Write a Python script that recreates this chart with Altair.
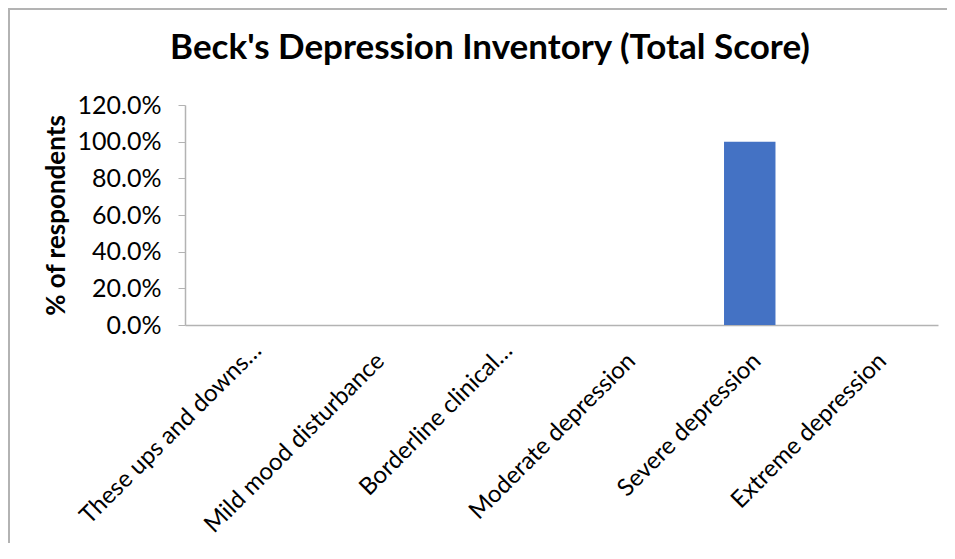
import altair as alt
import pandas as pd

categories = [
    "These ups and downs…",
    "Mild mood disturbance",
    "Borderline clinical…",
    "Moderate depression",
    "Severe depression",
    "Extreme depression",
]
values = [0.0, 0.0, 0.0, 0.0, 1.0, 0.0]
y_ticks = [0.0, 0.2, 0.4, 0.6, 0.8, 1.0, 1.2]
title_text = ["Beck's Depression Inventory (Total Score)"]

df = pd.DataFrame({"category": categories, "value": values})

FONT = "Lato"
GRAY = "#b3b3b3"
ELLIPSIS_TEST = "indexof(datum.category, '…') >= 0"

x_enc = alt.X(
    "category:N",
    sort=categories,
    scale=alt.Scale(paddingInner=0.59, paddingOuter=0.295),
    axis=alt.Axis(
        title=None,
        labels=False,
        ticks=False,
        domainColor=GRAY,
        domainWidth=1.5,
    ),
)

bars = alt.Chart(df).mark_bar(color="#4472C4").encode(
    x=x_enc,
    y=alt.Y(
        "value:Q",
        scale=alt.Scale(domain=[0, 1.2], nice=False),
        axis=alt.Axis(
            title="% of respondents",
            titleFont=FONT,
            titleFontSize=26,
            titleFontWeight="bold",
            titleColor="#000000",
            titlePadding=8,
            values=y_ticks,
            format=".1%",
            labelFont=FONT,
            labelFontSize=25,
            labelColor="#000000",
            labelPadding=17,
            tickSize=7,
            tickColor=GRAY,
            domainColor=GRAY,
            domainWidth=1.5,
            grid=False,
        ),
    ),
)

label_style = dict(font=FONT, fontSize=24, color="#000000", angle=315,
                   align="right", baseline="middle")
labels_regular = alt.Chart(df).transform_filter(f"!({ELLIPSIS_TEST})").mark_text(
    dx=5.3, dy=5.3, **label_style
).encode(x=alt.X("category:N", sort=categories), y=alt.value(252.5), text="category:N")
labels_ellipsis = alt.Chart(df).transform_filter(ELLIPSIS_TEST).mark_text(
    dx=7.1, dy=7.1, **label_style
).encode(x=alt.X("category:N", sort=categories), y=alt.value(242), text="category:N")

one = alt.Data(values=[{"t": title_text[0]}])
left_border = alt.Chart(one).mark_rule(color=GRAY, strokeWidth=2).encode(
    x=alt.value(-176), y=alt.value(-97), y2=alt.value(560)
)
top_border = alt.Chart(one).mark_rule(color=GRAY, strokeWidth=2).encode(
    x=alt.value(-177), x2=alt.value(800), y=alt.value(-96)
)
title = alt.Chart(one).mark_text(
    font=FONT, fontSize=35, fontWeight="bold", color="#000000",
    align="center", baseline="alphabetic",
).encode(text="t:N", x=alt.value(305), y=alt.value(-46))

chart = (
    alt.layer(left_border, top_border, title, bars, labels_regular, labels_ellipsis)
    .properties(
        width=753,
        height=220,
        autosize=alt.AutoSizeParams(type="none"),
        padding={"left": 177, "top": 97, "right": 9, "bottom": 218},
    )
    .configure_view(stroke=None)
)

chart.save("out.html", embed_options={"renderer": "svg", "actions": False})
